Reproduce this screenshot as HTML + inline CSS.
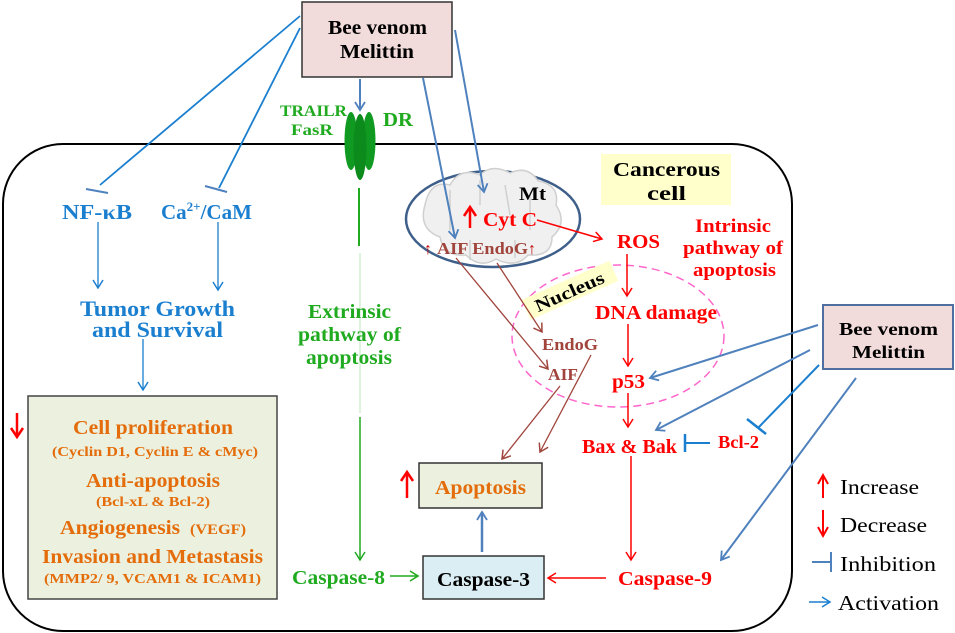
<!DOCTYPE html>
<html><head><meta charset="utf-8"><style>
body{margin:0;background:#fff}
svg{display:block;font-family:"Liberation Serif",serif;font-weight:bold}
</style></head><body>
<svg width="955" height="633" viewBox="0 0 955 633" xmlns="http://www.w3.org/2000/svg">
<defs>
<marker id="ab" markerWidth="12" markerHeight="12" refX="9" refY="6" orient="auto" markerUnits="userSpaceOnUse"><path d="M1,1 L9,6 L1,11" fill="none" stroke="#4f81bd" stroke-width="1.8"/></marker>
<marker id="ar" markerWidth="12" markerHeight="12" refX="9" refY="6" orient="auto" markerUnits="userSpaceOnUse"><path d="M1,1 L9,6 L1,11" fill="none" stroke="#ff0000" stroke-width="1.5"/></marker>
<marker id="ag" markerWidth="12" markerHeight="12" refX="9" refY="6" orient="auto" markerUnits="userSpaceOnUse"><path d="M1,1 L9,6 L1,11" fill="none" stroke="#1faa1f" stroke-width="1.5"/></marker>
<marker id="abr" markerWidth="12" markerHeight="12" refX="9" refY="6" orient="auto" markerUnits="userSpaceOnUse"><path d="M1,1 L9,6 L1,11" fill="none" stroke="#a0443c" stroke-width="1.5"/></marker>
<marker id="abb" markerWidth="12" markerHeight="12" refX="9" refY="6" orient="auto" markerUnits="userSpaceOnUse"><path d="M1,1 L9,6 L1,11" fill="none" stroke="#1b7fd0" stroke-width="1.5"/></marker>
</defs>

<rect x="3" y="144" width="789" height="487" rx="60" fill="none" stroke="#000" stroke-width="2"/>

<rect x="302" y="2" width="150" height="75" fill="#f2dcdb" stroke="#333" stroke-width="1.5"/>
<text x="328" y="34" font-size="20" textLength="99" lengthAdjust="spacingAndGlyphs">Bee venom</text>
<text x="340" y="58" font-size="20" textLength="74" lengthAdjust="spacingAndGlyphs">Melittin</text>

<rect x="823" y="305" width="130" height="64" fill="#f2dcdb" stroke="#4f6fa0" stroke-width="2"/>
<text x="839" y="335" font-size="18" textLength="99" lengthAdjust="spacingAndGlyphs">Bee venom</text>
<text x="852" y="358" font-size="18" textLength="73" lengthAdjust="spacingAndGlyphs">Melittin</text>

<text x="280" y="116" font-size="16" fill="#1faa1f" textLength="67" lengthAdjust="spacingAndGlyphs">TRAILR</text>
<text x="291" y="135" font-size="16" fill="#1faa1f" textLength="42" lengthAdjust="spacingAndGlyphs">FasR</text>
<text x="383" y="126" font-size="20" fill="#1faa1f" textLength="30" lengthAdjust="spacingAndGlyphs">DR</text>
<ellipse cx="351" cy="141" rx="6.5" ry="29" fill="#119a22"/>
<ellipse cx="369" cy="141" rx="6.5" ry="29" fill="#119a22"/>
<ellipse cx="360" cy="147" rx="6.5" ry="33" fill="#0c8a1c"/>
<line x1="360" y1="79" x2="360" y2="110" stroke="#4f81bd" stroke-width="2" marker-end="url(#ab)"/>

<line x1="300" y1="16" x2="100" y2="185" stroke="#1b7fd0" stroke-width="1.8"/>
<line x1="86" y1="189" x2="108" y2="193" stroke="#4f81bd" stroke-width="2"/>
<line x1="300" y1="28" x2="219" y2="188" stroke="#1b7fd0" stroke-width="1.8"/>
<line x1="205" y1="186" x2="227" y2="192" stroke="#4f81bd" stroke-width="2"/>

<text x="62" y="219" font-size="21" fill="#1b7fd0" textLength="70" lengthAdjust="spacingAndGlyphs">NF-κB</text>
<text x="161" y="219" font-size="21" fill="#1b7fd0">Ca<tspan font-size="13" dy="-8">2+</tspan><tspan dy="8">/CaM</tspan></text>
<line x1="98" y1="222" x2="98" y2="288" stroke="#1b7fd0" stroke-width="1.3" marker-end="url(#abb)"/>
<line x1="218" y1="222" x2="218" y2="290" stroke="#1b7fd0" stroke-width="1.3" marker-end="url(#abb)"/>
<text x="80" y="316" font-size="22" fill="#1b7fd0" textLength="155" lengthAdjust="spacingAndGlyphs">Tumor Growth</text>
<text x="92" y="337" font-size="22" fill="#1b7fd0" textLength="131" lengthAdjust="spacingAndGlyphs">and Survival</text>
<line x1="143" y1="339" x2="143" y2="390" stroke="#1b7fd0" stroke-width="1.3" marker-end="url(#abb)"/>

<rect x="28" y="396" width="249" height="203" fill="#ebf1de" stroke="#444" stroke-width="1.5"/>
<g fill="#e46c0a">
<text x="73" y="434" font-size="20" textLength="160" lengthAdjust="spacingAndGlyphs">Cell proliferation</text>
<text x="52" y="456" font-size="14" textLength="206" lengthAdjust="spacingAndGlyphs">(Cyclin D1, Cyclin E &amp; cMyc)</text>
<text x="86" y="487" font-size="20" textLength="134" lengthAdjust="spacingAndGlyphs">Anti-apoptosis</text>
<text x="96" y="506" font-size="14" textLength="114" lengthAdjust="spacingAndGlyphs">(Bcl-xL &amp; Bcl-2)</text>
<text x="60" y="534" font-size="20" textLength="120" lengthAdjust="spacingAndGlyphs">Angiogenesis</text>
<text x="190" y="534" font-size="15" textLength="56" lengthAdjust="spacingAndGlyphs">(VEGF)</text>
<text x="42" y="563" font-size="20" textLength="221" lengthAdjust="spacingAndGlyphs">Invasion and Metastasis</text>
<text x="44" y="583" font-size="14" textLength="217" lengthAdjust="spacingAndGlyphs">(MMP2/ 9, VCAM1 &amp; ICAM1)</text>
</g>
<line x1="17" y1="413" x2="17" y2="436" stroke="#f00" stroke-width="2.5"/>
<path d="M11,428 L17,437 L23,428" fill="none" stroke="#f00" stroke-width="2.5"/>

<line x1="359" y1="188" x2="359" y2="246" stroke="#1faa1f" stroke-width="2"/>
<line x1="360" y1="253" x2="360" y2="413" stroke="#bfe6bf" stroke-width="1"/>
<line x1="360" y1="417" x2="360" y2="560" stroke="#1faa1f" stroke-width="1.5" marker-end="url(#ag)"/>
<text x="308" y="318" font-size="20" fill="#1faa1f" textLength="83" lengthAdjust="spacingAndGlyphs">Extrinsic</text>
<text x="298" y="341" font-size="20" fill="#1faa1f" textLength="103" lengthAdjust="spacingAndGlyphs">pathway of</text>
<text x="306" y="364" font-size="20" fill="#1faa1f" textLength="86" lengthAdjust="spacingAndGlyphs">apoptosis</text>
<text x="292" y="584" font-size="20" fill="#1faa1f" textLength="93" lengthAdjust="spacingAndGlyphs">Caspase-8</text>
<line x1="390" y1="576" x2="418" y2="576" stroke="#1faa1f" stroke-width="1.5" marker-end="url(#ag)"/>

<rect x="419" y="463" width="123" height="45" fill="#ebf1de" stroke="#333" stroke-width="1.5"/>
<text x="435" y="494" font-size="20" fill="#e46c0a" textLength="91" lengthAdjust="spacingAndGlyphs">Apoptosis</text>
<line x1="407" y1="498" x2="407" y2="472" stroke="#f00" stroke-width="2.5"/>
<path d="M401,481 L407,472 L413,481" fill="none" stroke="#f00" stroke-width="2.5"/>
<rect x="423" y="556" width="121" height="43" fill="#dbeef4" stroke="#333" stroke-width="1.5"/>
<text x="437" y="586" font-size="20" fill="#000" textLength="93" lengthAdjust="spacingAndGlyphs">Caspase-3</text>
<line x1="482" y1="552" x2="482" y2="512" stroke="#4f81bd" stroke-width="2.5" marker-end="url(#ab)"/>

<ellipse cx="493" cy="219" rx="87" ry="48" fill="#fff" stroke="#3e5f8a" stroke-width="2.5"/>
<path d="M425,205 q5,-25 25,-20 q10,-18 30,-10 q12,-12 30,-2 q18,-8 28,8 q22,4 18,24 q12,18 -4,32 q0,20 -24,18 q-12,14 -32,4 q-16,10 -30,-4 q-22,2 -26,-18 q-22,-8 -15,-32z" fill="#f0f0f0" stroke="#d0d0d0" stroke-width="1.5"/>
<path d="M450,190 v40 M480,180 v25 M505,185 l5,30 M530,195 v35 M470,240 v20 M515,240 v18" fill="none" stroke="#d0d0d0" stroke-width="1.5"/>
<text x="519" y="200" font-size="19" fill="#000" textLength="27" lengthAdjust="spacingAndGlyphs">Mt</text>
<text x="483" y="226" font-size="20" fill="#f00" textLength="54" lengthAdjust="spacingAndGlyphs">Cyt C</text>
<line x1="470" y1="228" x2="470" y2="208" stroke="#f00" stroke-width="2.5"/>
<path d="M464,216 L470,207 L476,216" fill="none" stroke="#f00" stroke-width="2.5"/>
<text x="437" y="254" font-size="17" fill="#a0443c" textLength="91" lengthAdjust="spacingAndGlyphs">AIF EndoG</text>
<text x="424" y="254" font-size="16" fill="#c00000">↑</text>
<text x="528" y="254" font-size="16" fill="#c00000">↑</text>
<line x1="537" y1="220" x2="602" y2="239" stroke="#f00" stroke-width="1.5" marker-end="url(#ar)"/>

<line x1="423" y1="78" x2="455" y2="238" stroke="#4f81bd" stroke-width="2" marker-end="url(#ab)"/>
<line x1="455" y1="30" x2="484" y2="192" stroke="#4f81bd" stroke-width="2" marker-end="url(#ab)"/>

<rect x="601" y="154" width="130" height="51" fill="#ffffcc"/>
<text x="613" y="176" font-size="20" fill="#000" textLength="107" lengthAdjust="spacingAndGlyphs">Cancerous</text>
<text x="647" y="200" font-size="20" fill="#000" textLength="39" lengthAdjust="spacingAndGlyphs">cell</text>

<text x="695" y="232" font-size="19" fill="#f00" textLength="76" lengthAdjust="spacingAndGlyphs">Intrinsic</text>
<text x="683" y="254" font-size="19" fill="#f00" textLength="100" lengthAdjust="spacingAndGlyphs">pathway of</text>
<text x="693" y="276" font-size="19" fill="#f00" textLength="83" lengthAdjust="spacingAndGlyphs">apoptosis</text>

<ellipse cx="618" cy="336" rx="106" ry="71" fill="none" stroke="#ff66cc" stroke-width="1.5" stroke-dasharray="8,5"/>
<g transform="translate(569,293) rotate(-24)">
<rect x="-46" y="-13" width="96" height="22" fill="#ffffcc"/>
<text x="-36" y="5" font-size="18" fill="#000" textLength="74" lengthAdjust="spacingAndGlyphs">Nucleus</text>
</g>

<text x="617" y="248" font-size="20" fill="#f00" textLength="43" lengthAdjust="spacingAndGlyphs">ROS</text>
<line x1="627" y1="254" x2="627" y2="296" stroke="#f00" stroke-width="1.5" marker-end="url(#ar)"/>
<text x="595" y="319" font-size="20" fill="#f00" textLength="122" lengthAdjust="spacingAndGlyphs">DNA damage</text>
<line x1="628" y1="324" x2="628" y2="366" stroke="#f00" stroke-width="1.5" marker-end="url(#ar)"/>
<text x="612" y="388" font-size="20" fill="#f00" textLength="33" lengthAdjust="spacingAndGlyphs">p53</text>
<line x1="628" y1="393" x2="628" y2="427" stroke="#f00" stroke-width="1.5" marker-end="url(#ar)"/>
<text x="582" y="453" font-size="20" fill="#f00" textLength="95" lengthAdjust="spacingAndGlyphs">Bax &amp; Bak</text>
<line x1="631" y1="456" x2="631" y2="560" stroke="#f00" stroke-width="1.5" marker-end="url(#ar)"/>
<text x="618" y="585" font-size="20" fill="#f00" textLength="94" lengthAdjust="spacingAndGlyphs">Caspase-9</text>
<line x1="606" y1="578" x2="548" y2="578" stroke="#f00" stroke-width="1.5" marker-end="url(#ar)"/>
<text x="718" y="448" font-size="18" fill="#f00" textLength="41" lengthAdjust="spacingAndGlyphs">Bcl-2</text>
<line x1="710" y1="443" x2="686" y2="443" stroke="#1b7fd0" stroke-width="2"/>
<line x1="685" y1="434" x2="685" y2="452" stroke="#1b7fd0" stroke-width="2.5"/>

<text x="542" y="350" font-size="17" fill="#a0443c" textLength="56" lengthAdjust="spacingAndGlyphs">EndoG</text>
<text x="548" y="380" font-size="17" fill="#a0443c" textLength="30" lengthAdjust="spacingAndGlyphs">AIF</text>
<line x1="497" y1="263" x2="542" y2="332" stroke="#a0443c" stroke-width="1.3" marker-end="url(#abr)"/>
<line x1="456" y1="258" x2="548" y2="369" stroke="#a0443c" stroke-width="1.3" marker-end="url(#abr)"/>
<line x1="560" y1="386" x2="502" y2="459" stroke="#a0443c" stroke-width="1.3" marker-end="url(#abr)"/>
<line x1="591" y1="355" x2="540" y2="452" stroke="#a0443c" stroke-width="1.3" marker-end="url(#abr)"/>

<line x1="818" y1="325" x2="650" y2="378" stroke="#4f81bd" stroke-width="2" marker-end="url(#ab)"/>
<line x1="810" y1="350" x2="656" y2="430" stroke="#4f81bd" stroke-width="2" marker-end="url(#ab)"/>
<line x1="819" y1="365" x2="758" y2="428" stroke="#1b7fd0" stroke-width="2"/>
<line x1="747" y1="419" x2="766" y2="434" stroke="#1b7fd0" stroke-width="2.5"/>
<line x1="856" y1="378" x2="721" y2="560" stroke="#4f81bd" stroke-width="2" marker-end="url(#ab)"/>

<line x1="823" y1="498" x2="823" y2="476" stroke="#f00" stroke-width="2"/>
<path d="M818,484 L823,475 L828,484" fill="none" stroke="#f00" stroke-width="2"/>
<text x="840" y="494" font-size="21" font-weight="normal" fill="#000" textLength="79" lengthAdjust="spacingAndGlyphs">Increase</text>
<line x1="823" y1="510" x2="823" y2="535" stroke="#f00" stroke-width="2"/>
<path d="M818,527 L823,536 L828,527" fill="none" stroke="#f00" stroke-width="2"/>
<text x="840" y="532" font-size="21" font-weight="normal" fill="#000" textLength="87" lengthAdjust="spacingAndGlyphs">Decrease</text>
<line x1="812" y1="562" x2="831" y2="562" stroke="#4f81bd" stroke-width="2"/>
<line x1="831" y1="552" x2="831" y2="572" stroke="#4f81bd" stroke-width="2"/>
<text x="840" y="571" font-size="21" font-weight="normal" fill="#000" textLength="96" lengthAdjust="spacingAndGlyphs">Inhibition</text>
<line x1="809" y1="602" x2="830" y2="602" stroke="#1b7fd0" stroke-width="1.5" marker-end="url(#abb)"/>
<text x="838" y="610" font-size="21" font-weight="normal" fill="#000" textLength="101" lengthAdjust="spacingAndGlyphs">Activation</text>
</svg>
</body></html>
